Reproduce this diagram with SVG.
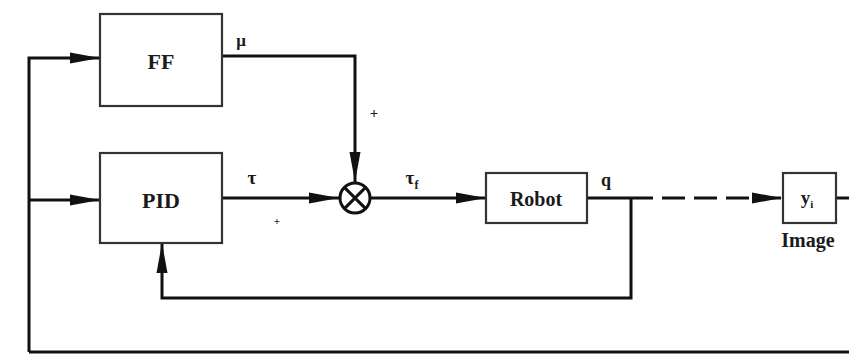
<svg xmlns="http://www.w3.org/2000/svg" width="849" height="356" viewBox="0 0 849 356">
<defs>
<marker id="arr" markerWidth="30" markerHeight="12" refX="30" refY="6" orient="auto" markerUnits="userSpaceOnUse">
<path d="M0,0.5 L30,6 L0,11.5 Z" fill="#111"/>
</marker>
<style>
.box{fill:#fff;stroke:#333;stroke-width:2.2}
.ln{fill:none;stroke:#111;stroke-width:3}
.t{font-family:"Liberation Serif","DejaVu Serif",serif;fill:#1a1a1a;text-anchor:middle;font-weight:bold}
</style>
</defs>
<rect width="849" height="356" fill="#fff"/>
<g id="connectors">
<path class="ln" d="M29,352 L29,58 L100,58" marker-end="url(#arr)"/>
<path class="ln" d="M29,200 L100,200" marker-end="url(#arr)"/>
<path class="ln" d="M29,352 L849,352"/>
<path class="ln" d="M222,56 L355,56 L355,182" marker-end="url(#arr)"/>
<path class="ln" d="M222,198 L339,198" marker-end="url(#arr)"/>
<path class="ln" d="M371,198 L486,198" marker-end="url(#arr)"/>
<path class="ln" d="M587,198 L653,198"/>
<path class="ln" d="M662,198 L782,198" stroke="#333" stroke-width="2.5" stroke-dasharray="23 9" marker-end="url(#arr)"/>
<path class="ln" d="M631,198 L631,298 L162,298 L162,243" marker-end="url(#arr)"/>
<path class="ln" d="M836,198 L849,198"/>
<text class="t" x="241" y="46" font-size="17">μ</text>
<text class="t" x="374" y="118" font-size="15">+</text>
<text class="t" x="252" y="184" font-size="19">τ</text>
<text class="t" x="277" y="225" font-size="11">+</text>
<text class="t" x="412" y="184" font-size="19">τ<tspan font-size="12" dy="5">f</tspan></text>
<text class="t" x="606" y="186" font-size="18">q</text>
</g>
<g id="ff">
<rect class="box" x="100" y="14" width="122" height="92"/>
<text class="t" x="161" y="69" font-size="22">FF</text>
</g>
<g id="pid">
<rect class="box" x="100" y="153" width="122" height="90"/>
<text class="t" x="161" y="208" font-size="22">PID</text>
</g>
<g id="sum">
<circle cx="355" cy="198" r="15" fill="#fff" stroke="#111" stroke-width="3"/>
<path d="M344.4,187.4 L365.6,208.6 M365.6,187.4 L344.4,208.6" stroke="#111" stroke-width="3"/>
</g>
<g id="robot">
<rect class="box" x="486" y="173" width="101" height="50"/>
<text class="t" x="536" y="206" font-size="20">Robot</text>
</g>
<g id="image">
<rect class="box" x="783" y="173" width="53" height="50"/>
<text class="t" x="807" y="204" font-size="19">y<tspan font-size="11" dy="4">i</tspan></text>
<text class="t" x="808" y="247" font-size="20">Image</text>
</g>
</svg>
